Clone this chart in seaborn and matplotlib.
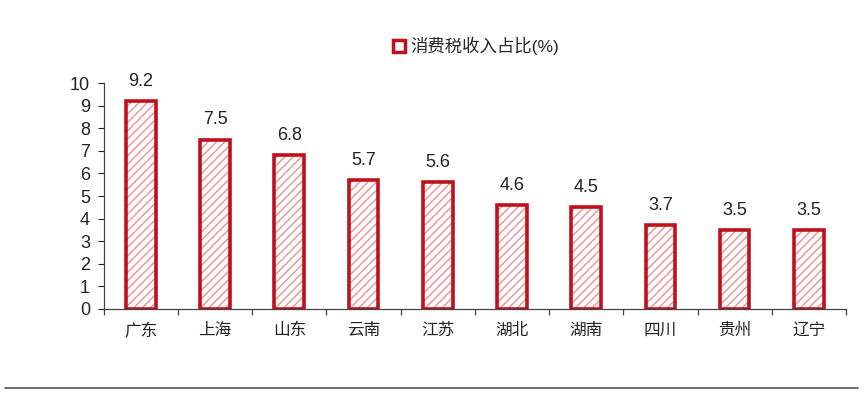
import numpy as np
import pandas as pd
import matplotlib
matplotlib.use("Agg")
import matplotlib.pyplot as plt
import seaborn as sns
from matplotlib.lines import Line2D

provinces = ["广东", "上海", "山东", "云南", "江苏", "湖北", "湖南", "四川", "贵州", "辽宁"]
values = [9.2, 7.5, 6.8, 5.7, 5.6, 4.6, 4.5, 3.7, 3.5, 3.5]
series_name = "消费税收入占比(%)"

df = pd.DataFrame({"province": provinces, "value": values})

sns.set_style("white")
plt.rcParams["font.family"] = ["Liberation Sans", "Noto Sans CJK SC", "DejaVu Sans"]
plt.rcParams["hatch.linewidth"] = 1.0

dark_red = "#C0101C"
light_red = "#F09090"

fig = plt.figure(figsize=(8.65, 3.98), dpi=100)
ax = fig.add_axes([0.120, 0.224, 0.858, 0.567])

# hatched fill
sns.barplot(data=df, x="province", y="value", color="white", width=0.4,
            edgecolor=light_red, linewidth=0, ax=ax)
for p in ax.patches:
    p.set_hatch("////")
    p.set_edgecolor(light_red)
    p.set_linewidth(0)

# outline
sns.barplot(data=df, x="province", y="value", fill=False, width=0.4,
            edgecolor=dark_red, linewidth=2.6, ax=ax)

ax.bar_label(ax.containers[-1], labels=[f"{v:.1f}" for v in values],
             padding=8, fontsize=13, color="#222222")

ax.set_ylim(0, 10)
ax.set_xlim(-0.5, len(provinces) - 0.5)
ax.set_yticks(range(0, 11))
ax.set_xlabel("")
ax.set_ylabel("")
ax.set_xticks(np.arange(len(provinces)))
ax.set_xticklabels(provinces, fontsize=12, color="#222222")
ax.tick_params(axis="x", which="major", bottom=False, length=0, pad=10)
ax.tick_params(axis="y", left=True, labelsize=13, direction="out", length=4,
               colors="#222222", pad=6)

# x ticks at category boundaries
ax.set_xticks(np.arange(len(provinces) + 1) - 0.5, minor=True)
ax.tick_params(axis="x", which="minor", bottom=True, direction="out", length=4,
               width=0.9, color="#444444")

for s in ["top", "right"]:
    ax.spines[s].set_visible(False)
for s in ["left", "bottom"]:
    ax.spines[s].set_color("#444444")
    ax.spines[s].set_linewidth(0.9)

handle = plt.Rectangle((0, 0), 1, 1, facecolor="white", edgecolor=dark_red, linewidth=2.5)
fig.legend([handle], [series_name], loc="center", bbox_to_anchor=(0.55, 0.885),
           frameon=False, fontsize=12.5, handlelength=0.7, handleheight=0.7,
           handletextpad=0.3)

fig.add_artist(Line2D([0.006, 0.992], [0.025, 0.025], color="#555555", linewidth=1.2))

fig.savefig("out.png", dpi=100, facecolor="white")
